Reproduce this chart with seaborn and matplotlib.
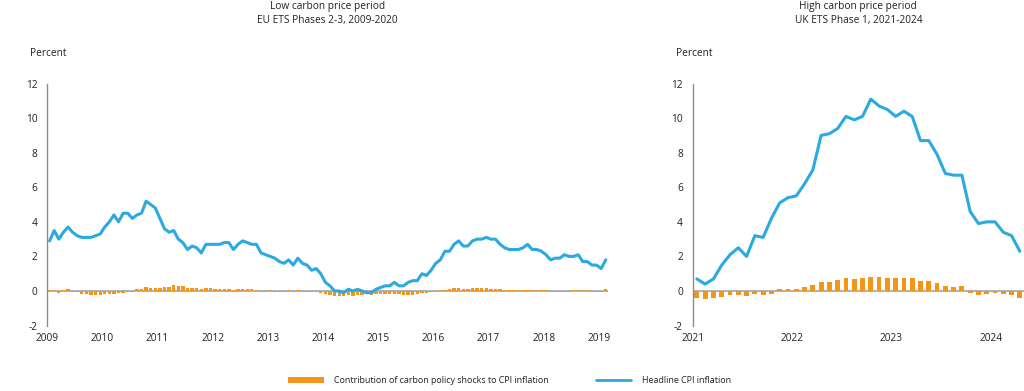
import pandas as pd
import numpy as np
import matplotlib
matplotlib.use('Agg')
import matplotlib.pyplot as plt
import seaborn as sns
from matplotlib.patches import Patch
from matplotlib.lines import Line2D

# Left panel: low carbon price period (monthly, 122 observations)
low_cpi = [2.9,
           3.5, 3.0, 3.4, 3.7, 3.4, 3.2, 3.1, 3.1, 3.1, 3.2, 3.3, 3.7,
           4.0, 4.4, 4.0, 4.5, 4.5, 4.2, 4.4, 4.5, 5.2, 5.0, 4.8, 4.2,
           3.6, 3.4, 3.5, 3.0, 2.8, 2.4, 2.6, 2.5, 2.2, 2.7, 2.7, 2.7,
           2.7, 2.8, 2.8, 2.4, 2.7, 2.9, 2.8, 2.7, 2.7, 2.2, 2.1, 2.0,
           1.9, 1.7, 1.6, 1.8, 1.5, 1.9, 1.6, 1.5, 1.2, 1.3, 1.0, 0.5,
           0.3, 0.0, 0.0, -0.1, 0.1, 0.0, 0.1, 0.0, -0.1, -0.1, 0.1, 0.2,
           0.3, 0.3, 0.5, 0.3, 0.3, 0.5, 0.6, 0.6, 1.0, 0.9, 1.2, 1.6,
           1.8, 2.3, 2.3, 2.7, 2.9, 2.6, 2.6, 2.9, 3.0, 3.0, 3.1, 3.0,
           3.0, 2.7, 2.5, 2.4, 2.4, 2.4, 2.5, 2.7, 2.4, 2.4, 2.3, 2.1,
           1.8, 1.9, 1.9, 2.1, 2.0, 2.0, 2.1, 1.7, 1.7, 1.5, 1.5, 1.3,
           1.8]
low_carbon = [0.05, 0.05, -0.13, 0.03, 0.12, -0.07, -0.07, -0.15, -0.2, -0.25, -0.25, -0.25,
              -0.2, -0.2, -0.15, -0.12, -0.1, -0.08, -0.08, 0.12, 0.12, 0.25, 0.2, 0.2,
              0.2, 0.25, 0.25, 0.32, 0.27, 0.27, 0.15, 0.2, 0.17, 0.1, 0.17, 0.17,
              0.12, 0.12, 0.12, 0.12, 0.05, 0.12, 0.12, 0.12, 0.1, 0.03, -0.05, -0.05,
              0.03, -0.05, -0.05, -0.05, 0.03, -0.05, 0.03, -0.05, -0.05, -0.05, -0.05, -0.12,
              -0.2, -0.25, -0.3, -0.3, -0.3, -0.25, -0.3, -0.25, -0.25, -0.2, -0.25, -0.2,
              -0.15, -0.2, -0.15, -0.2, -0.2, -0.25, -0.25, -0.25, -0.15, -0.12, -0.12, -0.08,
              -0.05, 0.03, 0.08, 0.12, 0.15, 0.15, 0.12, 0.12, 0.15, 0.15, 0.15, 0.15,
              0.12, 0.12, 0.1, 0.05, 0.03, 0.03, 0.08, 0.08, 0.08, 0.08, 0.03, 0.03,
              0.03, -0.08, -0.08, -0.08, -0.08, -0.08, 0.03, 0.03, 0.03, 0.03, -0.08, -0.08,
              -0.08, 0.1]
low_years = [str(y) for y in range(2009, 2020)]

# Right panel: high carbon price period (monthly, Jan 2021 - Apr 2024)
high_cpi = [0.7, 0.4, 0.7, 1.5, 2.1, 2.5, 2.0, 3.2, 3.1, 4.2, 5.1, 5.4,
            5.5, 6.2, 7.0, 9.0, 9.1, 9.4, 10.1, 9.9, 10.1, 11.1, 10.7, 10.5,
            10.1, 10.4, 10.1, 8.7, 8.7, 7.9, 6.8, 6.7, 6.7, 4.6, 3.9, 4.0,
            4.0, 3.4, 3.2, 2.3]
high_carbon = [-0.39, -0.46, -0.4, -0.33, -0.25, -0.25, -0.27, -0.18, -0.25, -0.17, 0.12, 0.12,
               0.1, 0.25, 0.33, 0.54, 0.54, 0.62, 0.76, 0.7, 0.77, 0.8, 0.8, 0.76,
               0.76, 0.76, 0.75, 0.57, 0.57, 0.47, 0.31, 0.23, 0.31, -0.12, -0.25, -0.15,
               -0.12, -0.15, -0.25, -0.39]
high_years = [str(y) for y in range(2021, 2025)]

orange = '#F39519'
blue = '#2CA9E1'
text_col = '#231F20'

sns.set_theme(style='white')
plt.rcParams['font.family'] = ['Open Sans', 'DejaVu Sans']
plt.rcParams['font.size'] = 7.3

fig = plt.figure(figsize=(10.24, 3.91), dpi=100)
ax1 = fig.add_axes([0.0462, 0.1673, 0.5476, 0.619])
ax2 = fig.add_axes([0.6765, 0.1673, 0.3235, 0.619])


def draw_panel(ax, cpi, carbon, years, title, bar_width):
    n = len(cpi)
    df = pd.DataFrame({'month': np.arange(n), 'cpi': cpi, 'carbon': carbon})
    ax.axhline(0, color='#ABABAB', lw=1.3, zorder=1)
    sns.barplot(data=df, x='month', y='carbon', color=orange, saturation=1,
                width=bar_width, linewidth=0, ax=ax, zorder=2)
    sns.lineplot(data=df, x='month', y='cpi', color=blue, lw=2.2, ax=ax, zorder=3)
    ax.set_xlim(-0.5, n - 0.5)
    ax.set_ylim(-2, 12)
    ax.set_yticks(range(-2, 13, 2))
    ax.set_yticklabels([str(v) for v in range(-2, 13, 2)])
    ax.set_xticks([-0.5 + 12 * k for k in range(len(years))])
    ax.set_xticklabels(years)
    ax.set_xlabel('')
    ax.set_ylabel('')
    ax.tick_params(axis='y', length=0, pad=7, colors=text_col, labelsize=7.3)
    ax.tick_params(axis='x', length=0, pad=5, colors=text_col, labelsize=7.3)
    for s in ['top', 'right', 'bottom']:
        ax.spines[s].set_visible(False)
    ax.spines['left'].set_color('#8C8C8C')
    ax.spines['left'].set_linewidth(1.0)
    ax.grid(False)
    pos = ax.get_position()
    xc = pos.x0 + pos.width / 2
    fig.text(xc, 1 - 7 / 391, title[0], ha='center', va='center', color=text_col, fontsize=7.3)
    fig.text(xc, 1 - 20.5 / 391, title[1], ha='center', va='center', color=text_col, fontsize=7.3)
    fig.text(pos.x0 - 17 / 1024, 1 - 53 / 391, 'Percent', ha='left', va='center',
             color=text_col, fontsize=7.3)


draw_panel(ax1, low_cpi, low_carbon, low_years,
           ['Low carbon price period', 'EU ETS Phases 2-3, 2009-2020'], 0.72)
draw_panel(ax2, high_cpi, high_carbon, high_years,
           ['High carbon price period', 'UK ETS Phase 1, 2021-2024'], 0.58)

handles = [Patch(facecolor=orange, edgecolor='none'),
           Line2D([0], [0], color=blue, lw=2)]
labels = ['Contribution of carbon policy shocks to CPI inflation', 'Headline CPI inflation']
fig.legend(handles, labels, loc='center', bbox_to_anchor=(0.4975, 0.026), ncol=2,
           frameon=False, handlelength=4.0, handleheight=0.6, handletextpad=1.15,
           columnspacing=5.3, fontsize=6.4, labelcolor=text_col)

fig.savefig('out.png', dpi=100)
